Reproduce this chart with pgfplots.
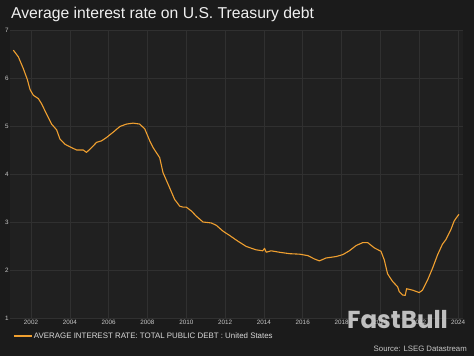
\documentclass[border=0pt]{standalone}
\usepackage{fontspec}
\setmainfont{Liberation Sans}
\newfontfamily\fbfont{Poppins}
\usepackage{pgfplots}
\pgfplotsset{compat=1.18}
\definecolor{bgcol}{HTML}{1B1B1B}
\definecolor{plotbg}{HTML}{202020}
\definecolor{gridcol}{HTML}{303030}
\definecolor{linecol}{HTML}{F0A030}
\definecolor{ticktext}{HTML}{C8C8C8}
\begin{document}
\begin{tikzpicture}
\path[use as bounding box, fill=bgcol] (0,0) rectangle (474bp,356bp);
\node[anchor=base west, inner sep=0pt, text=white!94!black, font=\fontsize{15.7bp}{18bp}\selectfont] at (11bp,337bp) {Average interest rate on U.S. Treasury debt};
\begin{axis}[
  at={(10bp,38bp)}, anchor=south west,
  scale only axis, width=453bp, height=288bp,
  xmin=2000.918, xmax=2024.256, ymin=1, ymax=7,
  axis line style={draw=none},
  axis background/.style={fill=plotbg},
  xtick={2002,2004,...,2024}, ytick={1,...,7},
  xticklabels={2002,2004,2006,2008,2010,2012,2014,2016,2018,2020,2022,2024},
  major tick length=0pt,
  grid=major, major grid style={draw=gridcol, line width=0.6bp},
  /pgf/number format/assume math mode=true,
  tick label style={font=\fontsize{6.3bp}{7bp}\selectfont, text=ticktext},
  yticklabel style={anchor=center, inner sep=0pt, xshift=-3bp},
  xticklabel style={anchor=north, inner sep=0pt, yshift=-1.5bp},
  legend style={at={(axis description cs:0.0066,-0.0625)}, anchor=west,
    draw=none, fill=none, inner sep=0pt, outer sep=0pt,
    font=\fontsize{7.9bp}{8.5bp}\selectfont, text=white!85!black,
    nodes={inner sep=1bp}},
  legend image code/.code={\draw[#1, line width=2bp] (0bp,0bp) -- (18bp,0bp);},
]
\addplot[color=linecol, line width=1.1bp, line join=round] coordinates {
(2001.09,6.58) (2001.35,6.44) (2001.60,6.20) (2001.81,5.97) (2001.95,5.76)
(2002.12,5.64) (2002.38,5.57) (2002.55,5.46) (2002.80,5.25) (2003.06,5.04)
(2003.32,4.92) (2003.49,4.73) (2003.75,4.62) (2004.09,4.55) (2004.35,4.50)
(2004.69,4.50) (2004.86,4.45) (2005.12,4.55) (2005.38,4.66) (2005.63,4.69)
(2005.89,4.76) (2006.23,4.87) (2006.58,4.99) (2006.92,5.04) (2007.26,5.06)
(2007.60,5.04) (2007.86,4.94) (2008.12,4.69) (2008.29,4.55) (2008.63,4.34)
(2008.80,4.03) (2009.06,3.79) (2009.40,3.47) (2009.66,3.33) (2009.83,3.31)
(2010.00,3.31) (2010.26,3.23) (2010.52,3.12) (2010.86,3.00) (2011.29,2.98)
(2011.55,2.93) (2011.89,2.81) (2012.23,2.72) (2012.66,2.60) (2013.09,2.49)
(2013.60,2.42) (2013.94,2.40) (2014.03,2.45) (2014.12,2.37) (2014.37,2.40)
(2014.80,2.37) (2015.32,2.34) (2015.83,2.33) (2016.26,2.30) (2016.60,2.23)
(2016.86,2.19) (2017.20,2.25) (2017.72,2.28) (2018.06,2.32) (2018.40,2.40)
(2018.75,2.51) (2019.09,2.57) (2019.35,2.57) (2019.69,2.46) (2020.03,2.39)
(2020.20,2.21) (2020.37,1.92) (2020.63,1.76) (2020.89,1.65) (2020.97,1.55)
(2021.14,1.48) (2021.28,1.47) (2021.35,1.61) (2021.66,1.58) (2022.00,1.53)
(2022.17,1.58) (2022.43,1.79) (2022.69,2.04) (2022.95,2.32) (2023.20,2.54)
(2023.37,2.63) (2023.63,2.84) (2023.80,3.02) (2023.97,3.12) (2024.05,3.16)
};
\addlegendentry{AVERAGE INTEREST RATE: TOTAL PUBLIC DEBT : United States}
\end{axis}
\node[anchor=base east, inner sep=0pt, text=ticktext, font=\fontsize{7.8bp}{9bp}\selectfont] at (467bp,4.5bp) {Source: LSEG Datastream};
\node[anchor=base west, inner sep=0pt, text=white!82!black, opacity=0.9, font=\fbfont\bfseries\fontsize{24.5bp}{26bp}\selectfont] at (347bp,28bp) {FastBull};
\end{tikzpicture}
\end{document}
